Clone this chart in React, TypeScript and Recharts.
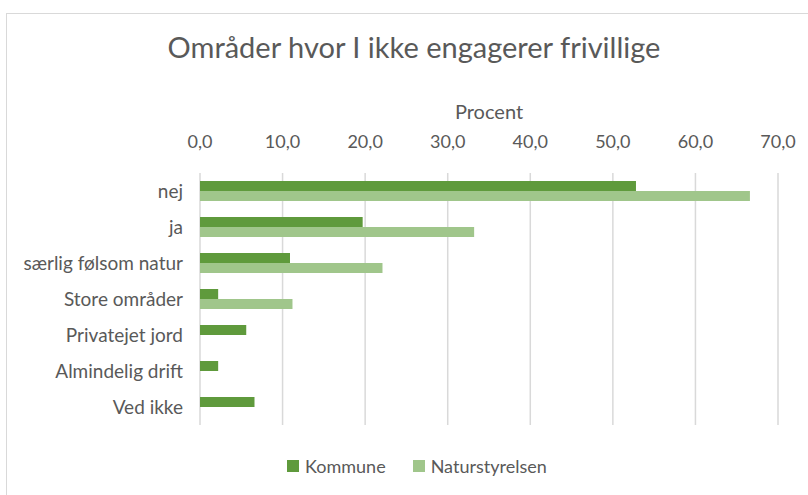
import { BarChart, Bar, XAxis, YAxis, CartesianGrid, Legend } from 'recharts';

const categories = [
  'nej',
  'ja',
  'særlig følsom natur',
  'Store områder',
  'Privatejet jord',
  'Almindelig drift',
  'Ved ikke',
];
const kommune = [52.8, 19.7, 10.9, 2.2, 5.6, 2.2, 6.6];
const naturstyrelsen = [66.6, 33.2, 22.1, 11.2, 0, 0, 0];
const xTicks = [0, 10, 20, 30, 40, 50, 60, 70];

const DARK = '#5f9a3c';
const LIGHT = '#a0c68b';
const TEXT = '#595959';
const FONT = 'Lato, "Open Sans", sans-serif';

const data = categories.map((name, i) => ({
  name,
  Kommune: kommune[i],
  Naturstyrelsen: naturstyrelsen[i],
}));

function LegendContent({ payload }: any) {
  return (
    <div style={{ display: 'flex', alignItems: 'center', fontFamily: FONT, fontSize: 18, color: TEXT }}>
      {(payload || []).map((p: any) => (
        <div key={p.value} style={{ display: 'flex', alignItems: 'center', marginRight: 27 }}>
          <span style={{ width: 12, height: 12, background: p.color, marginRight: 6, display: 'inline-block' }} />
          <span>{p.value}</span>
        </div>
      ))}
    </div>
  );
}

function App() {
  return (
    <div
      style={{
        position: 'absolute',
        left: 0,
        top: 0,
        width: 808,
        height: 495,
        overflow: 'hidden',
        background: '#fff',
        fontFamily: FONT,
      }}
    >
      <div
        style={{
          position: 'absolute',
          left: 6,
          top: 13,
          width: 860,
          height: 560,
          border: '1px solid #d9d9d9',
        }}
      />
      <div
        style={{
          position: 'absolute',
          left: 0,
          width: 828,
          top: 29,
          textAlign: 'center',
          fontSize: 29,
          color: TEXT,
        }}
      >
        Områder hvor I ikke engagerer frivillige
      </div>
      <div
        style={{
          position: 'absolute',
          left: 389,
          width: 200,
          top: 99,
          textAlign: 'center',
          fontSize: 20,
          color: TEXT,
        }}
      >
        Procent
      </div>
      <div style={{ position: 'absolute', left: 0, top: 0 }}>
        <BarChart
          width={808}
          height={495}
          data={data}
          layout="vertical"
          margin={{ top: 133, right: 30, bottom: 48, left: 0 }}
          barSize={10}
          barGap={0}
        >
          <CartesianGrid horizontal={false} stroke="#d9d9d9" strokeWidth={1.5} />
          <XAxis
            type="number"
            orientation="top"
            domain={[0, 70]}
            ticks={xTicks}
            height={40}
            axisLine={false}
            tickLine={false}
            tickSize={0}
            tickMargin={25}
            tickFormatter={(v: number) => v.toFixed(1).replace('.', ',')}
            tick={{ fontSize: 18, fill: TEXT, fontFamily: FONT }}
          />
          <YAxis
            type="category"
            dataKey="name"
            width={200}
            axisLine={false}
            tickLine={false}
            tickSize={0}
            tickMargin={17}
            tick={{ fontSize: 19, fill: TEXT, fontFamily: FONT }}
          />
          <Legend
            content={<LegendContent />}
            wrapperStyle={{ top: 455, left: 287, width: 320 }}
          />
          <Bar dataKey="Kommune" fill={DARK} isAnimationActive={false} />
          <Bar dataKey="Naturstyrelsen" fill={LIGHT} isAnimationActive={false} />
        </BarChart>
      </div>
    </div>
  );
}

export default App;
